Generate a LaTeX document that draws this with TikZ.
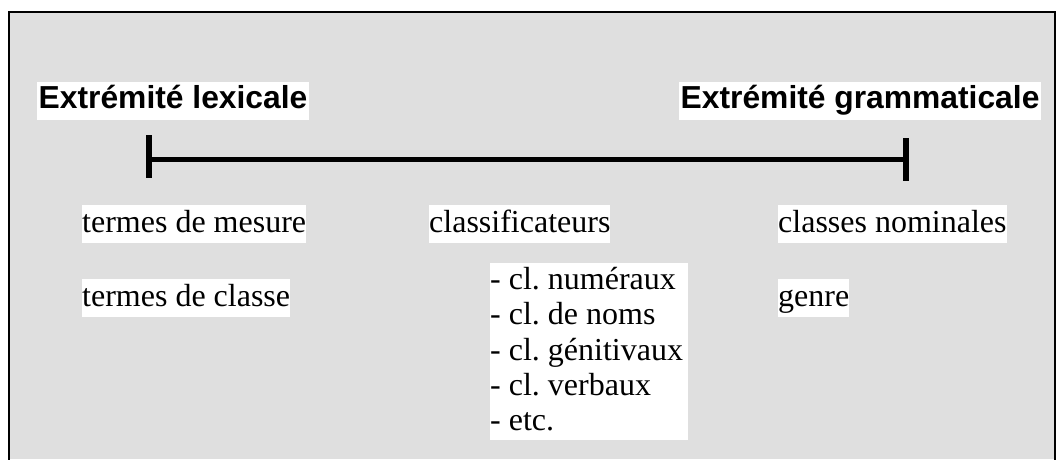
\documentclass[tikz,border=0pt]{standalone}
\usepackage{fontspec}
\setmainfont{Liberation Serif}
\newfontfamily\headfont{Liberation Sans}
\definecolor{panelgray}{RGB}{223,223,223}
\begin{document}
\begin{tikzpicture}[x=1pt,y=-1pt,
  headbox/.style={fill=white, inner xsep=1.5pt, inner ysep=0pt, anchor=north west,
    text height=26pt, text depth=12pt, font=\fontsize{31.8}{36}\selectfont\headfont\bfseries},
  termbox/.style={fill=white, inner sep=0pt, anchor=north west,
    text height=27pt, text depth=11pt, font=\fontsize{32}{35.4}\selectfont},
  listbox/.style={fill=white, inner sep=0pt, anchor=north west,
    align=left, font=\fontsize{32}{35.4}\selectfont\frenchspacing},
  scaleline/.style={line width=5.5pt, line cap=butt}]
\useasboundingbox (0,0) rectangle (1057,459);
\fill[white] (0,0) rectangle (1057,459);
\fill[panelgray] (9,11.5) rectangle (1055,459);
\draw[line width=2pt] (9,460) -- (9,11.5) -- (1055,11.5) -- (1055,460);

\node[headbox] (lex) at (37,82) {Extrémité lexicale};
\node[headbox] (gram) at (679,82) {Extrémité grammaticale};

\coordinate (lt) at (149,135);
\coordinate (lb) at (149,178);
\coordinate (lm) at (146.25,159.5);
\coordinate (rt) at (906,138);
\coordinate (rb) at (906,181);
\coordinate (rm) at (908.75,159.5);
\draw[scaleline] (lt) -- (lb);
\draw[scaleline] (rt) -- (rb);
\draw[scaleline] (lm) -- (rm);

\node[termbox] (mes) at (82,205) {termes de mesure};
\node[termbox] (cls) at (429,205) {classificateurs};
\node[termbox] (nom) at (778,205) {classes nominales};
\node[termbox] (cla) at (82,279) {termes de classe};
\node[termbox] (gen) at (778,279) {genre};
\node[listbox] (list) at (490,263) {\makebox[198pt][l]{\rule{0pt}{26pt}- cl. numéraux}\\
- cl. de noms\\
- cl. génitivaux\\
- cl. verbaux\\
- etc.\rule[-9.4pt]{0pt}{9.4pt}};
\end{tikzpicture}
\end{document}
